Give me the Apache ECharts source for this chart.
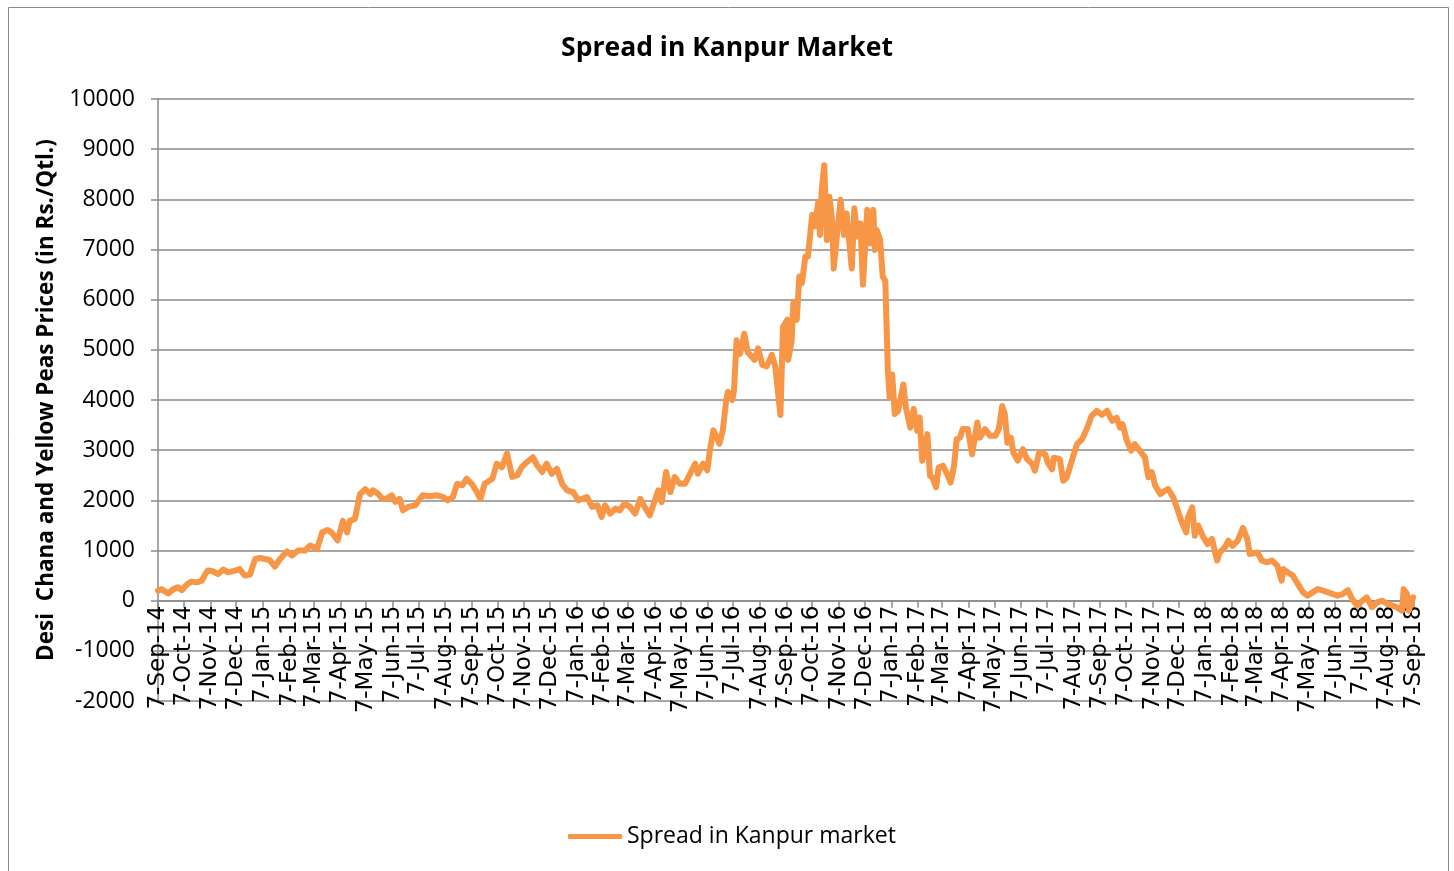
<!DOCTYPE html>
<html>
<head>
    <meta charset="utf-8">
    <title>Spread in Kanpur Market</title>
    <script src="https://cdn.jsdelivr.net/npm/echarts@6/dist/echarts.min.js"></script>
    <style>
        html, body { margin: 0; padding: 0; background: #fff; }
        #main { width: 1454px; height: 871px; }
    </style>
</head>
<body>
<div id="main"></div>
<script type="text/javascript">
    // monthly tick labels (Excel date axis, 7th of each month)
    var tickLabels = [
        '7-Sep-14','7-Oct-14','7-Nov-14','7-Dec-14','7-Jan-15','7-Feb-15','7-Mar-15','7-Apr-15','7-May-15',
        '7-Jun-15','7-Jul-15','7-Aug-15','7-Sep-15','7-Oct-15','7-Nov-15','7-Dec-15','7-Jan-16','7-Feb-16',
        '7-Mar-16','7-Apr-16','7-May-16','7-Jun-16','7-Jul-16','7-Aug-16','7-Sep-16','7-Oct-16','7-Nov-16',
        '7-Dec-16','7-Jan-17','7-Feb-17','7-Mar-17','7-Apr-17','7-May-17','7-Jun-17','7-Jul-17','7-Aug-17',
        '7-Sep-17','7-Oct-17','7-Nov-17','7-Dec-17','7-Jan-18','7-Feb-18','7-Mar-18','7-Apr-18','7-May-18',
        '7-Jun-18','7-Jul-18','7-Aug-18','7-Sep-18'
    ];

    // days counted from 7-Sep-14
    var dayOffset = [
        0,4,12,18,23,28,34,39,45,51,
        55,58,64,70,76,81,90,95,101,107,
        113,119,124,130,136,142,150,156,163,171,
        177,185,191,197,202,209,215,220,223,229,
        235,241,247,250,256,261,266,272,276,281,
        285,291,299,308,316,325,332,337,343,348,
        354,359,365,371,375,380,389,394,400,406,
        412,418,423,429,436,441,447,452,458,464,
        470,476,483,489,493,499,505,511,516,520,
        526,532,537,543,549,555,561,566,572,578,
        582,586,591,596,601,607,613,619,625,628,
        634,639,642,646,650,653,657,661,663,668,
        670,673,677,682,686,694,698,703,708,714,
        718,724,727,732,733,737,739,743,746,749,
        753,756,761,764,768,770,772,775,778,781,
        784,786,790,794,798,801,807,810,813,817,
        820,822,825,828,832,834,836,840,843,846,
        849,851,854,857,861,867,870,875,879,883,
        886,889,895,898,901,905,908,913,918,922,
        926,929,933,936,942,947,953,956,962,968,
        974,978,982,985,988,992,995,1000,1006,1011,
        1017,1020,1025,1032,1035,1040,1042,1049,1053,1057,
        1063,1069,1075,1081,1086,1092,1098,1104,1110,1115,
        1119,1122,1127,1132,1136,1142,1148,1152,1156,1160,
        1166,1171,1175,1181,1185,1191,1196,1198,1203,1206,
        1210,1216,1221,1226,1232,1235,1241,1245,1250,1256,
        1262,1267,1270,1279,1284,1290,1296,1302,1307,1309,
        1314,1320,1326,1332,1337,1343,1349,1355,1361,1367,
        1372,1378,1384,1389,1395,1401,1406,1412,1418,1424,
        1430,1436,1441,1447,1449,1453,1455,1460
    ];

    // spread in Rs./Qtl.
    var spread = [
        200,230,145,230,265,210,330,380,365,400,
        530,600,585,530,620,565,600,630,500,520,
        830,850,830,810,680,830,980,900,1000,1000,
        1100,1030,1360,1410,1360,1200,1590,1360,1590,1630,
        2125,2225,2125,2200,2130,2030,2030,2100,1970,2030,
        1800,1870,1900,2100,2080,2100,2065,2000,2065,2330,
        2300,2430,2330,2165,2030,2330,2430,2730,2660,2930,
        2465,2500,2660,2760,2860,2700,2565,2730,2530,2630,
        2330,2200,2165,2000,2030,2065,1870,1900,1670,1900,
        1735,1835,1800,1935,1870,1735,2030,1870,1700,2000,
        2200,1965,2565,2165,2465,2330,2330,2530,2730,2530,
        2730,2600,3000,3395,3260,3130,3395,4000,4160,4000,
        4190,5190,4920,5320,4950,4800,5030,4700,4670,4900,
        4670,3700,5460,5600,4800,5160,5930,5600,6460,6330,
        6860,6860,7690,7460,7950,7290,8190,8680,7190,8050,
        7590,6620,7320,7990,7290,7720,6620,7820,7260,7520,
        6300,6300,7790,7120,7790,6990,7390,7190,6460,6370,
        4580,4050,4510,3720,3780,4310,3850,3450,3820,3385,
        3650,2790,3320,2490,2455,2260,2650,2690,2520,2355,
        2690,3220,3250,3420,3420,2920,3550,3250,3420,3285,
        3285,3420,3880,3720,3150,3250,2950,2790,3020,2820,
        2720,2590,2950,2920,2750,2620,2850,2820,2390,2455,
        2790,3120,3220,3450,3685,3785,3705,3785,3585,3650,
        3450,3520,3190,2990,3120,2990,2855,2460,2560,2290,
        2125,2190,2225,2060,1860,1560,1360,1660,1860,1295,
        1495,1260,1130,1230,800,960,1060,1195,1095,1195,
        1450,1230,930,960,800,765,800,700,400,630,
        565,500,330,165,100,165,230,200,165,130,
        100,130,210,35,-100,0,65,-130,-35,0,
        -65,-100,-130,-200,230,130,-200,65
    ];

    var DAY = 86400000;
    var start = Date.UTC(2014, 8, 7);
    var tickDays = tickLabels.map(function (t, i) {
        return Math.round((Date.UTC(2014, 8 + i, 7) - start) / DAY);
    });

    var lineData = [];
    for (var i = 0; i < spread.length; i++) {
        lineData.push([dayOffset[i], spread[i]]);
    }

    var myChart = echarts.init(document.getElementById('main'));

    var gridColor = '#8a8a8a';

    var option = {
        backgroundColor: '#ffffff',
        animation: false,
        title: {
            text: 'Spread in Kanpur Market',
            left: 'center',
            top: 30,
            textStyle: {
                fontFamily: 'Open Sans',
                fontWeight: 'bold',
                fontSize: 26.5,
                color: '#000'
            }
        },
        graphic: [{
            type: 'rect',
            shape: { x: 8.5, y: 7.5, width: 1440, height: 900 },
            style: { fill: 'none', stroke: '#8a8a8a', lineWidth: 1 },
            silent: true
        }],
        legend: {
            left: 563,
            top: 820,
            icon: 'roundRect',
            itemWidth: 54,
            itemHeight: 5,
            textStyle: {
                fontFamily: 'Open Sans',
                fontSize: 23,
                color: '#000'
            },
            data: ['Spread in Kanpur market']
        },
        grid: {
            left: 158,
            right: 40,
            top: 99,
            bottom: 170
        },
        xAxis: {
            type: 'value',
            min: 0,
            max: 1461,
            // axis sits on the zero line, labels hang below it
            offset: -100.3,
            axisLine: {
                onZero: false,
                lineStyle: { color: gridColor, width: 1.5 }
            },
            axisTick: {
                show: true,
                length: 7,
                customValues: tickDays,
                lineStyle: { color: gridColor, width: 1.5 }
            },
            axisLabel: {
                rotate: 90,
                margin: 5,
                customValues: tickDays,
                fontFamily: 'DejaVu Sans',
                fontSize: 23,
                color: '#000',
                formatter: function (val) {
                    var k = tickDays.indexOf(Math.round(val));
                    return k >= 0 ? tickLabels[k] : '';
                }
            },
            splitLine: { show: false }
        },
        yAxis: {
            type: 'value',
            min: -2000,
            max: 10000,
            interval: 1000,
            name: 'Desi  Chana and Yellow Peas Prices (in Rs./Qtl.)',
            nameLocation: 'middle',
            nameGap: 98,
            nameTextStyle: {
                fontFamily: 'Open Sans',
                fontWeight: 'bold',
                fontSize: 22.5,
                color: '#000'
            },
            axisLine: {
                show: true,
                lineStyle: { color: gridColor, width: 1.5 }
            },
            axisTick: {
                show: true,
                length: 7,
                lineStyle: { color: gridColor, width: 1.5 }
            },
            axisLabel: {
                margin: 23,
                fontFamily: 'Open Sans',
                fontSize: 23,
                color: '#000',
                formatter: function (v) { return String(v); }
            },
            splitLine: {
                show: true,
                lineStyle: { color: gridColor, width: 1.5 }
            }
        },
        series: [{
            name: 'Spread in Kanpur market',
            type: 'line',
            data: lineData,
            showSymbol: false,
            symbol: 'none',
            lineStyle: { color: '#f79646', width: 6, join: 'round', cap: 'round' },
            itemStyle: { color: '#f79646' }
        }]
    };

    myChart.setOption(option);
</script>
</body>
</html>
